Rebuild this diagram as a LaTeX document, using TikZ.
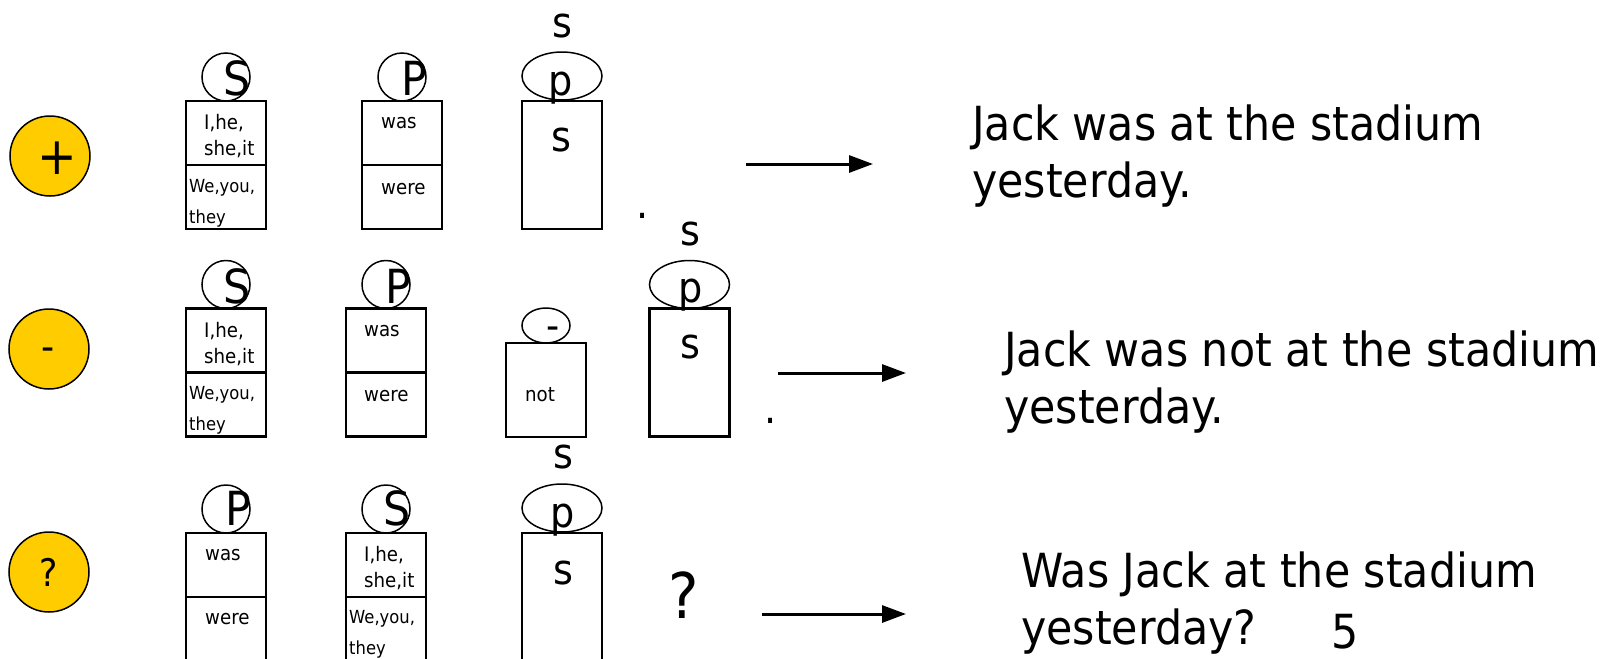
\documentclass[tikz,border=0pt]{standalone}
\usepackage{fontspec}
\setmainfont{DejaVu Sans}[FakeStretch=0.91]
\usetikzlibrary{arrows.meta,shapes.geometric}
\definecolor{signyellow}{HTML}{FFCC00}
\tikzset{
  sign/.style={circle, draw=black, line width=1.5pt, fill=signyellow, minimum size=80pt, inner sep=0pt},
  cell/.style={draw=black, line width=2.2pt, rectangle, minimum width=80pt, minimum height=128pt, inner sep=0pt, outer sep=0pt},
  divider/.style={line width=2.2pt},
  tag/.style={circle, draw=black, line width=1.5pt, minimum size=48pt, inner sep=0pt},
  oval/.style={ellipse, draw=black, line width=1.5pt, minimum width=80pt, minimum height=48pt, inner sep=0pt},
  small/.style={font=\fontsize{20}{24}\selectfont, inner sep=0pt, anchor=base west},
  smaller/.style={font=\fontsize{18}{22}\selectfont, inner sep=0pt, anchor=base west},
  big/.style={font=\fontsize{47}{57}\selectfont, inner sep=0pt, anchor=base west},
  letter/.style={font=\fontsize{47}{50}\selectfont, inner sep=0pt, anchor=base},
  lowerletter/.style={font=\fontsize{42}{50}\selectfont, inner sep=0pt, anchor=base},
  arr/.style={line width=3pt, -{Triangle[length=24pt, width=17pt]}},
}
\begin{document}
\begin{tikzpicture}[x=1pt,y=-1pt]
\useasboundingbox (0,0) rectangle (1610,659);
% ---------------- row 1 ----------------
\node[sign] (sgn1) at (50,156) {};
\node[font=\fontsize{52}{56}\selectfont, inner sep=0pt] (sgn1t) at (57,158) {+};
\node[cell] (r1a) at (226,165) {};
\draw[divider] (r1a.west) -- (r1a.east);
\node[tag] (r1ac) at (226,77) {};
\node[letter] (r1al) at (237,95) {S};
\node[small] (r1a1) at (204,129) {I,he,};
\node[small] (r1a2) at (204,155) {she,it};
\node[smaller] (r1a3) at (189,192) {We,you,};
\node[smaller] (r1a4) at (189,223) {they};
\node[cell] (r1b) at (402,165) {};
\draw[divider] (r1b.west) -- (r1b.east);
\node[tag] (r1bc) at (402,77) {};
\node[letter] (r1bl) at (414,95) {P};
\node[small] (r1b1) at (381,128) {was};
\node[small] (r1b2) at (381,194) {were};
\node[cell] (r1c) at (562,165) {};
\node[oval] (r1cc) at (562,76) {};
\node[lowerletter] (r1ct) at (562,37) {s};
\node[lowerletter] (r1cp) at (561,95) {p};
\node[lowerletter] (r1cs) at (561,151) {s};
\node[lowerletter] (r1dot) at (643,218) {.};
\coordinate (a1s) at (746,164);
\coordinate (a1e) at (873,164);
\draw[arr] (a1s) -- (a1e);
\node[big] (t1a) at (972,140) {Jack was at the stadium};
\node[big] (t1b) at (972,197) {yesterday.};
% ---------------- row 2 ----------------
\node[sign] (sgn2) at (49,349) {};
\node[font=\fontsize{40}{50}\selectfont, inner sep=0pt, anchor=base] (sgn2t) at (48,360) {-};
\node[cell] (r2a) at (226,372.5) {};
\draw[divider] (r2a.west) -- (r2a.east);
\node[tag] (r2ac) at (226,284.5) {};
\node[letter] (r2al) at (237.5,303) {S};
\node[small] (r2a1) at (204,337) {I,he,};
\node[small] (r2a2) at (204,363) {she,it};
\node[smaller] (r2a3) at (189,399) {We,you,};
\node[smaller] (r2a4) at (189,430) {they};
\node[cell] (r2b) at (386,372.5) {};
\draw[divider] (r2b.west) -- (r2b.east);
\node[tag] (r2bc) at (386,284.5) {};
\node[letter] (r2bl) at (398,303) {P};
\node[small] (r2b1) at (364,336) {was};
\node[small] (r2b2) at (364,401) {were};
\node[cell, minimum height=94pt] (r2n) at (546,390) {};
\node[oval, minimum width=48pt, minimum height=35pt] (r2nc) at (546,325.5) {};
\node[font=\fontsize{40}{50}\selectfont, inner sep=0pt, anchor=base] (r2nd) at (553,339) {-};
\node[small] (r2nt) at (525,401) {not};
\node[cell] (r2c) at (689.5,372.5) {};
\node[oval] (r2cc) at (689.5,284.5) {};
\node[lowerletter] (r2ct) at (690,245) {s};
\node[lowerletter] (r2cp) at (691,302) {p};
\node[lowerletter] (r2cs) at (690,358) {s};
\node[lowerletter] (r2dot) at (771,423) {.};
\coordinate (a2s) at (778,373);
\coordinate (a2e) at (906,373);
\draw[arr] (a2s) -- (a2e);
\node[big] (t2a) at (1004,366) {Jack was not at the stadium};
\node[big] (t2b) at (1004,423) {yesterday.};
% ---------------- row 3 ----------------
\node[sign] (sgn3) at (49,572) {};
\node[font=\fontsize{38}{45}\selectfont, inner sep=0pt, anchor=base] (sgn3t) at (49,586) {?};
\node[cell] (r3a) at (226,597) {};
\draw[divider] (r3a.west) -- (r3a.east);
\node[tag] (r3ac) at (226,509) {};
\node[letter] (r3al) at (238,525) {P};
\node[small] (r3a1) at (205,560) {was};
\node[small] (r3a2) at (205,624) {were};
\node[cell] (r3b) at (386,597) {};
\draw[divider] (r3b.west) -- (r3b.east);
\node[tag] (r3bc) at (386,509) {};
\node[letter] (r3bl) at (397,525) {S};
\node[small] (r3b1) at (364,561) {I,he,};
\node[small] (r3b2) at (364,587) {she,it};
\node[smaller] (r3b3) at (349,623) {We,you,};
\node[smaller] (r3b4) at (349,654) {they};
\node[cell] (r3c) at (562,597) {};
\node[oval] (r3cc) at (562,508) {};
\node[lowerletter] (r3ct) at (563,468) {s};
\node[lowerletter] (r3cp) at (563,527) {p};
\node[lowerletter] (r3cs) at (563,584) {s};
\node[font=\fontsize{63}{70}\selectfont, inner sep=0pt, anchor=base] (r3q) at (684,618) {?};
\coordinate (a3s) at (762,614);
\coordinate (a3e) at (906,614);
\draw[arr] (a3s) -- (a3e);
\node[big] (t3a) at (1021,587) {Was Jack at the stadium};
\node[big] (t3b) at (1021,644) {yesterday?};
\node[big, anchor=base] (pagenum) at (1345,648) {5};
\end{tikzpicture}
\end{document}
